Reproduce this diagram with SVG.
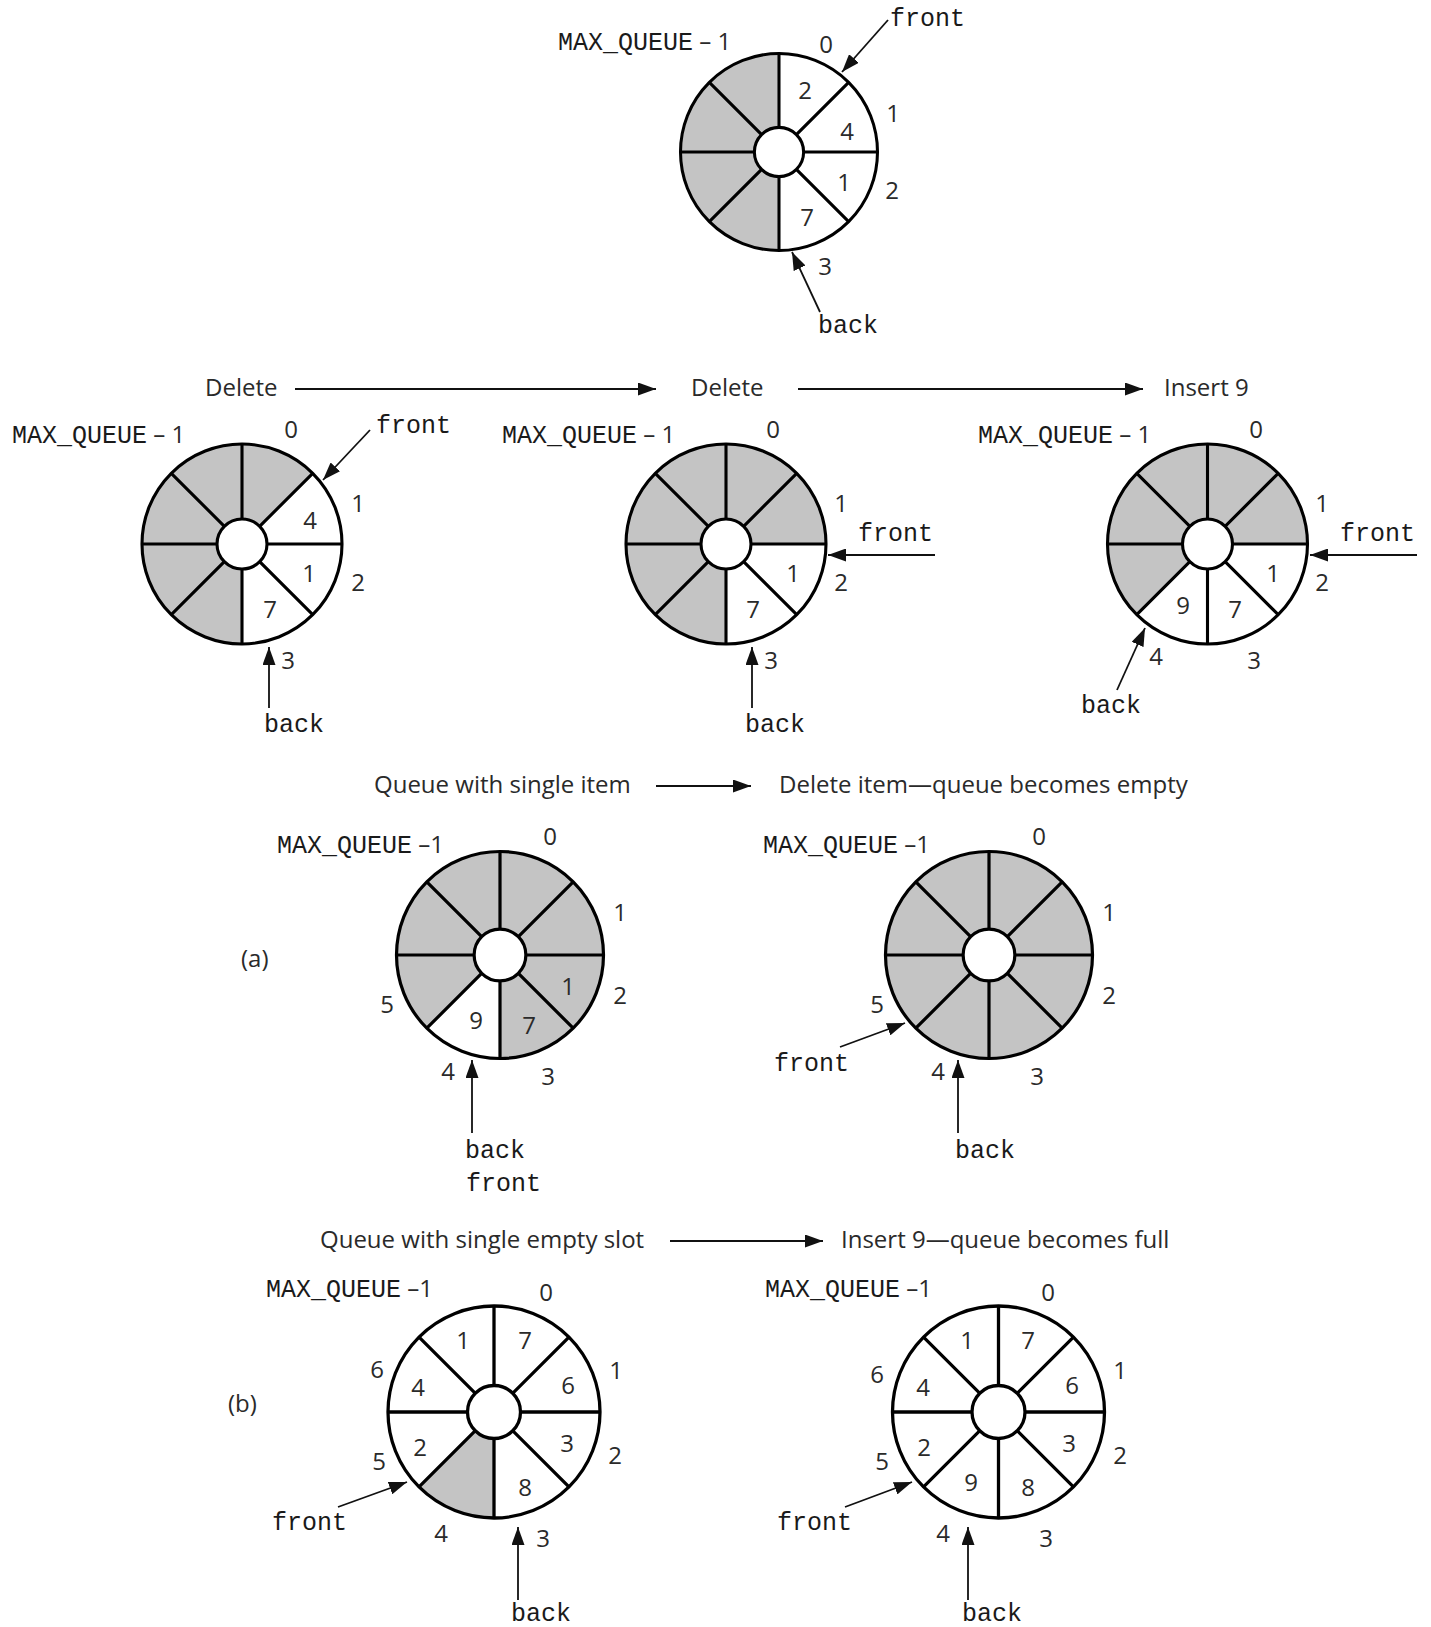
<svg xmlns="http://www.w3.org/2000/svg" width="1431" height="1627" viewBox="0 0 1431 1627">
<defs>
<style>
.s{font-family:"Open Sans","Noto Sans","Liberation Sans",sans-serif;font-size:24px;fill:#2a2a2a}
.m{font-family:"Liberation Mono","Courier New",monospace;font-size:25px;fill:#1a1a1a}
.c{text-anchor:middle}
.ol{fill:none;stroke:#000;stroke-width:3.1}
.bg{fill:#fff}
.sh{fill:#c4c4c4}
.ar{fill:none;stroke:#111;stroke-width:1.8;marker-end:url(#ah)}
</style>
<marker id="ah" markerUnits="userSpaceOnUse" markerWidth="19" markerHeight="13" refX="18" refY="6.5" orient="auto"><path d="M0,0L18,6.5L0,13z" fill="#111"/></marker>
<g id="wheel">
<path class="ol" d="M0,-100V100M-100,0H100M-70.71,-70.71L70.71,70.71M-70.71,70.71L70.71,-70.71"/>
<circle class="ol" r="100"/>
<circle r="25" fill="#fff" stroke="#000" stroke-width="3.1"/>
</g>
</defs>
<rect width="1431" height="1627" fill="#fff"/>

<g id="q-top">
<g transform="translate(779,152) scale(0.985)">
<circle class="bg" r="100"/>
<path class="sh" d="M0,0L0,100A100,100 0 0 1 0,-100Z"/>
<use href="#wheel"/>
</g>
<text x="558" y="50"><tspan class="m">MAX_QUEUE</tspan><tspan class="s"> – 1</tspan></text>
<text class="s c" x="826" y="53">0</text>
<text class="s c" x="893" y="122">1</text>
<text class="s c" x="892" y="199">2</text>
<text class="s c" x="825" y="275">3</text>
<text class="s c" x="805" y="99">2</text>
<text class="s c" x="847" y="140">4</text>
<text class="s c" x="844" y="191">1</text>
<text class="s c" x="807" y="226">7</text>
<text class="m" x="890" y="26">front</text>
<text class="m" x="818" y="333">back</text>
</g>

<g id="q-delete1">
<g transform="translate(242,544)">
<circle class="bg" r="100"/>
<path class="sh" d="M0,0L0,100A100,100 0 1 1 70.71,-70.71Z"/>
<use href="#wheel"/>
</g>
<text x="12" y="443"><tspan class="m">MAX_QUEUE</tspan><tspan class="s"> – 1</tspan></text>
<text class="s c" x="291" y="438">0</text>
<text class="s c" x="358" y="512">1</text>
<text class="s c" x="358" y="591">2</text>
<text class="s c" x="288" y="669">3</text>
<text class="s c" x="310" y="529">4</text>
<text class="s c" x="309" y="582">1</text>
<text class="s c" x="270" y="618">7</text>
<text class="m" x="376" y="433">front</text>
<text class="m" x="264" y="732">back</text>
</g>

<g id="q-delete2">
<g transform="translate(726,544)">
<circle class="bg" r="100"/>
<path class="sh" d="M0,0L0,100A100,100 0 1 1 100,0Z"/>
<use href="#wheel"/>
</g>
<text x="502" y="443"><tspan class="m">MAX_QUEUE</tspan><tspan class="s"> – 1</tspan></text>
<text class="s c" x="773" y="438">0</text>
<text class="s c" x="841" y="512">1</text>
<text class="s c" x="841" y="591">2</text>
<text class="s c" x="771" y="669">3</text>
<text class="s c" x="793" y="582">1</text>
<text class="s c" x="753" y="618">7</text>
<text class="m" x="858" y="541">front</text>
<text class="m" x="745" y="732">back</text>
</g>

<g id="q-insert9">
<g transform="translate(1207.5,544)">
<circle class="bg" r="100"/>
<path class="sh" d="M0,0L-70.71,70.71A100,100 0 1 1 100,0Z"/>
<use href="#wheel"/>
</g>
<text x="978" y="443"><tspan class="m">MAX_QUEUE</tspan><tspan class="s"> – 1</tspan></text>
<text class="s c" x="1256" y="438">0</text>
<text class="s c" x="1322" y="512">1</text>
<text class="s c" x="1322" y="591">2</text>
<text class="s c" x="1254" y="669">3</text>
<text class="s c" x="1156" y="665">4</text>
<text class="s c" x="1273" y="582">1</text>
<text class="s c" x="1235" y="618">7</text>
<text class="s c" x="1183" y="614">9</text>
<text class="m" x="1340" y="541">front</text>
<text class="m" x="1081" y="713">back</text>
</g>

<g id="q-single-item">
<g transform="translate(500,955) scale(1.035)">
<circle class="bg" r="100"/>
<path class="sh" d="M0,0L-70.71,70.71A100,100 0 1 1 0,100Z"/>
<use href="#wheel"/>
</g>
<text x="277" y="853"><tspan class="m">MAX_QUEUE</tspan><tspan class="s"> –1</tspan></text>
<text class="s" x="241" y="967">(a)</text>
<text class="s c" x="550" y="845">0</text>
<text class="s c" x="620" y="921">1</text>
<text class="s c" x="620" y="1004">2</text>
<text class="s c" x="548" y="1085">3</text>
<text class="s c" x="448" y="1080">4</text>
<text class="s c" x="387" y="1013">5</text>
<text class="s c" x="568" y="995">1</text>
<text class="s c" x="529" y="1034">7</text>
<text class="s c" x="476" y="1029">9</text>
<text class="m" x="465" y="1158">back</text>
<text class="m" x="466" y="1191">front</text>
</g>

<g id="q-empty">
<g transform="translate(989,955) scale(1.035)">
<circle class="sh" r="100"/>
<use href="#wheel"/>
</g>
<text x="763" y="853"><tspan class="m">MAX_QUEUE</tspan><tspan class="s"> –1</tspan></text>
<text class="s c" x="1039" y="845">0</text>
<text class="s c" x="1109" y="921">1</text>
<text class="s c" x="1109" y="1004">2</text>
<text class="s c" x="1037" y="1085">3</text>
<text class="s c" x="938" y="1080">4</text>
<text class="s c" x="877" y="1013">5</text>
<text class="m" x="774" y="1071">front</text>
<text class="m" x="955" y="1158">back</text>
</g>

<g id="q-single-slot">
<g transform="translate(494,1412) scale(1.06)">
<circle class="bg" r="100"/>
<path class="sh" d="M0,0L0,100A100,100 0 0 1 -70.71,70.71Z"/>
<use href="#wheel"/>
</g>
<text x="266" y="1297"><tspan class="m">MAX_QUEUE</tspan><tspan class="s"> –1</tspan></text>
<text class="s" x="228" y="1412">(b)</text>
<text class="s c" x="546" y="1301">0</text>
<text class="s c" x="616" y="1379">1</text>
<text class="s c" x="615" y="1464">2</text>
<text class="s c" x="543" y="1547">3</text>
<text class="s c" x="441" y="1542">4</text>
<text class="s c" x="379" y="1470">5</text>
<text class="s c" x="377" y="1378">6</text>
<text class="s c" x="463" y="1349">1</text>
<text class="s c" x="525" y="1349">7</text>
<text class="s c" x="568" y="1394">6</text>
<text class="s c" x="567" y="1452">3</text>
<text class="s c" x="525" y="1496">8</text>
<text class="s c" x="420" y="1456">2</text>
<text class="s c" x="418" y="1396">4</text>
<text class="m" x="272" y="1530">front</text>
<text class="m" x="511" y="1621">back</text>
</g>

<g id="q-full">
<g transform="translate(998.5,1412) scale(1.06)">
<circle class="bg" r="100"/>
<use href="#wheel"/>
</g>
<text x="765" y="1297"><tspan class="m">MAX_QUEUE</tspan><tspan class="s"> –1</tspan></text>
<text class="s c" x="1048" y="1301">0</text>
<text class="s c" x="1120" y="1379">1</text>
<text class="s c" x="1120" y="1464">2</text>
<text class="s c" x="1046" y="1547">3</text>
<text class="s c" x="943" y="1542">4</text>
<text class="s c" x="882" y="1470">5</text>
<text class="s c" x="877" y="1383">6</text>
<text class="s c" x="967" y="1349">1</text>
<text class="s c" x="1028" y="1349">7</text>
<text class="s c" x="1072" y="1394">6</text>
<text class="s c" x="1069" y="1452">3</text>
<text class="s c" x="1028" y="1496">8</text>
<text class="s c" x="971" y="1491">9</text>
<text class="s c" x="924" y="1456">2</text>
<text class="s c" x="923" y="1396">4</text>
<text class="m" x="777" y="1530">front</text>
<text class="m" x="962" y="1621">back</text>
</g>

<g id="step-labels">
<text class="s" x="205" y="396">Delete</text>
<text class="s" x="691" y="396">Delete</text>
<text class="s" x="1164" y="396">Insert 9</text>
<text class="s" x="374" y="793">Queue with single item</text>
<text class="s" x="779" y="793">Delete item—queue becomes empty</text>
<text class="s" x="320" y="1248">Queue with single empty slot</text>
<text class="s" x="841" y="1248">Insert 9—queue becomes full</text>
</g>

<g id="connectors">
<path class="ar" d="M888,20L842,72"/>
<path class="ar" d="M820,312L792,252"/>
<path class="ar" d="M370,430L323,480"/>
<path class="ar" d="M269,708V647"/>
<path class="ar" d="M935,555H828"/>
<path class="ar" d="M752,708V647"/>
<path class="ar" d="M1417,555H1310"/>
<path class="ar" d="M1117,690L1145,628"/>
<path class="ar" d="M472,1133V1060"/>
<path class="ar" d="M840,1047L905,1023"/>
<path class="ar" d="M958,1133V1060"/>
<path class="ar" d="M338,1507L407,1482"/>
<path class="ar" d="M518,1600V1527"/>
<path class="ar" d="M845,1507L912,1482"/>
<path class="ar" d="M968,1600V1527"/>
<path class="ar" d="M295,389H656"/>
<path class="ar" d="M798,389H1143"/>
<path class="ar" d="M656,786H751"/>
<path class="ar" d="M670,1241H823"/>
</g>
</svg>
